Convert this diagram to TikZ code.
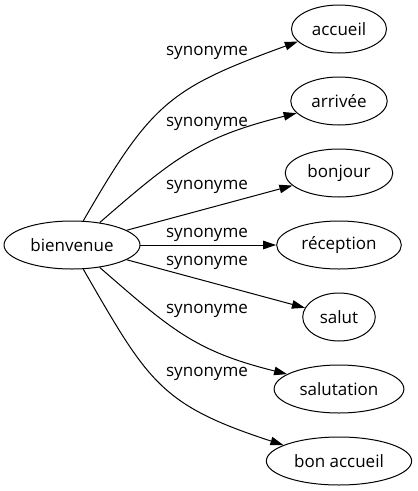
\documentclass[tikz,border=0pt]{standalone}
\usepackage{fontspec}
\setmainfont{Open Sans}
\usetikzlibrary{arrows.meta}
\usetikzlibrary{shapes}
\tikzset{word/.style={draw, ellipse, minimum height=48pt, inner xsep=6.5pt,
   font=\fontsize{17}{20}\selectfont},
 syn/.style={inner sep=0pt, font=\fontsize{17}{20}\selectfont},
 link/.style={draw, -{Triangle[length=13pt, width=8.5pt]}},
 }

\begin{document}
\begin{tikzpicture}[x=1pt, y=1pt, line width=1pt]
        \useasboundingbox (0, 0) rectangle (418, -491);
        \node[word] (bien) at (72, -245) {bienvenue};

        \foreach \name/\txt [count=\i] in {acc/accueil, arr/arrivée, bon/bonjour,
            rec/réception, sal/salut, salu/salutation, bonacc/bon accueil} {
            \node[word] (\name) at (339, -29-72*\i+72) {\txt};
        }

        \foreach \y [count=\i] in {53, 124, 187, 235, 263, 311, 374} {
            \node[syn] (syn\i) at (207, -\y) {synonyme};
        }

        \draw[link] (bien.65) to[out=60, in=200, looseness=1.25] (acc.197);
        \draw[link] (bien.39) to[out=41, in=194, looseness=1.13] (arr.196);
        \draw[link] (bien) -- (bon);
        \draw[link] (bien) -- (rec);
        \draw[link] (bien) -- (sal);
        \draw[link] (bien.-39) to[out=-41, in=166, looseness=1.13] (salu.164);
        \draw[link] (bien.-65) to[out=-60, in=162, looseness=1.25] (bonacc.164);
    \end{tikzpicture}
\end{document}
